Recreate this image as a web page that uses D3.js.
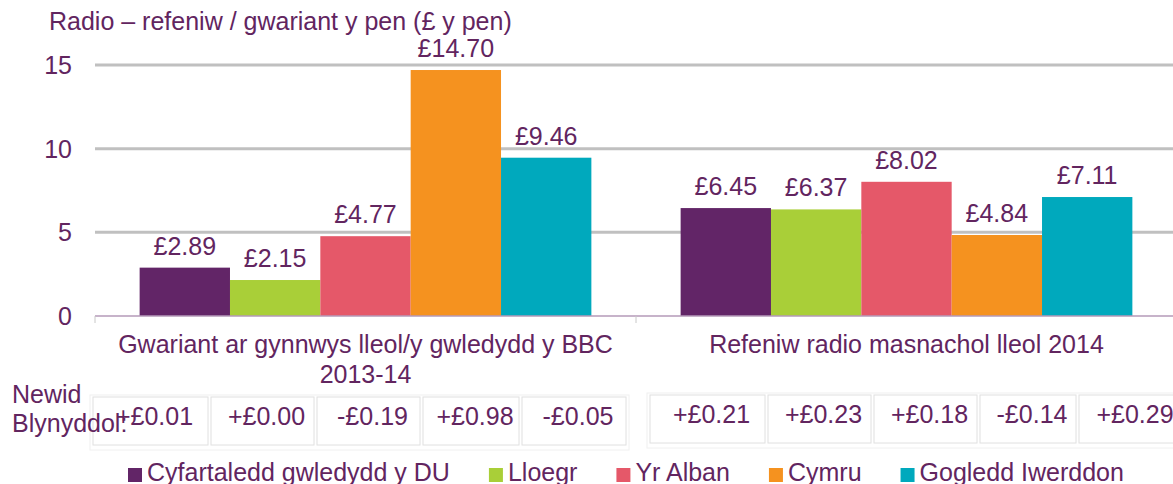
<!DOCTYPE html>
<html>
<head>
<meta charset="utf-8">
<script src="https://cdn.jsdelivr.net/npm/d3@7"></script>
<style>
  body { margin: 0; background: #fff; }
  text { font-family: "Liberation Sans", Arial, sans-serif; fill: #62255f; font-size: 25px; }
</style>
</head>
<body>
<script>
// data
const groups = ["Gwariant ar gynnwys lleol/y gwledydd y BBC|2013-14", "Refeniw radio masnachol lleol 2014"];
const seriesNames = ["Cyfartaledd gwledydd y DU", "Lloegr", "Yr Alban", "Cymru", "Gogledd Iwerddon"];
const bbcValues = [2.89, 2.15, 4.77, 14.70, 9.46];
const commercialValues = [6.45, 6.37, 8.02, 4.84, 7.11];
const bbcChange = ["+£0.01", "+£0.00", "-£0.19", "+£0.98", "-£0.05"];
const commercialChange = ["+£0.21", "+£0.23", "+£0.18", "-£0.14", "+£0.29"];
const yTicks = [0, 5, 10, 15];
const colors = ["#622567", "#a9cf38", "#e55869", "#f5921f", "#00a9bd"];

const width = 1173, height = 484;
const values = [bbcValues, commercialValues];
const changes = [bbcChange, commercialChange];

const svg = d3.select("body").append("svg")
    .attr("width", width)
    .attr("height", height);

// scales
const x0 = d3.scaleBand()
    .domain(groups)
    .range([95, 1177])
    .paddingInner(0.165)
    .paddingOuter(0.0825);

const x1 = d3.scaleBand()
    .domain(seriesNames)
    .range([0, x0.bandwidth()]);

const y = d3.scaleLinear()
    .domain([0, 15])
    .range([316, 65]);

const color = d3.scaleOrdinal().domain(seriesNames).range(colors);

// title
svg.append("text")
    .attr("x", 49)
    .attr("y", 30)
    .text("Radio – refeniw / gwariant y pen (£ y pen)");

// gridlines
svg.append("g")
    .selectAll("line")
    .data(yTicks.filter(d => d > 0))
    .join("line")
    .attr("x1", 95)
    .attr("x2", width)
    .attr("y1", d => y(d))
    .attr("y2", d => y(d))
    .attr("stroke", "#c0c0c0")
    .attr("stroke-width", 3);

// y tick labels
svg.append("g")
    .selectAll("text")
    .data(yTicks)
    .join("text")
    .attr("x", 72)
    .attr("y", d => y(d) + 9)
    .attr("text-anchor", "end")
    .text(d => d);

// bars
const barGroups = svg.append("g")
    .selectAll("g")
    .data(groups.map((g, i) => ({g, vals: values[i]})))
    .join("g")
    .attr("transform", d => `translate(${x0(d.g)},0)`);

barGroups.selectAll("rect")
    .data(d => d.vals.map((v, i) => ({name: seriesNames[i], v})))
    .join("rect")
    .attr("x", d => x1(d.name))
    .attr("y", d => y(d.v))
    .attr("width", x1.bandwidth())
    .attr("height", d => y(0) - y(d.v))
    .attr("fill", d => color(d.name));

barGroups.selectAll("text")
    .data(d => d.vals.map((v, i) => ({name: seriesNames[i], v})))
    .join("text")
    .attr("x", d => x1(d.name) + x1.bandwidth() / 2)
    .attr("y", d => y(d.v) - 13)
    .attr("text-anchor", "middle")
    .text(d => "£" + d.v.toFixed(2));

// x axis line and ticks
svg.append("line")
    .attr("x1", 95).attr("x2", width)
    .attr("y1", y(0)).attr("y2", y(0))
    .attr("stroke", "#b49ab8")
    .attr("stroke-width", 1.5);

const step = x0.step();
svg.append("g")
    .selectAll("line")
    .data([0, 1])
    .join("line")
    .attr("x1", d => 95 + d * step)
    .attr("x2", d => 95 + d * step)
    .attr("y1", y(0))
    .attr("y2", y(0) + 7)
    .attr("stroke", "#c8c8c8");

// category labels
svg.append("g")
    .selectAll("text")
    .data(groups)
    .join("text")
    .attr("y", 353)
    .attr("text-anchor", "middle")
    .each(function(d) {
      d3.select(this).selectAll("tspan")
        .data(d.split("|"))
        .join("tspan")
        .attr("x", x0(d) + x0.bandwidth() / 2)
        .attr("dy", (p, i) => i === 0 ? 0 : 30)
        .text(p => p);
    });

// annual change table
const tableLeft = [93, 650];
const tableTop = [397, 395];
const cellWidths = [115, 103, 103, 96, 104];
const cellGap = 3, cellH = 48;

groups.forEach((g, gi) => {
  const left = tableLeft[gi];
  const top = tableTop[gi];
  const starts = cellWidths.map((w, i) => left + d3.sum(cellWidths.slice(0, i)) + i * cellGap);
  const tg = svg.append("g");
  tg.append("rect")
    .attr("x", left - 3).attr("y", top - 2)
    .attr("width", d3.sum(cellWidths) + 4 * cellGap + 6).attr("height", cellH + 7)
    .attr("fill", "none")
    .attr("stroke", "#f0f0f0");
  tg.selectAll("rect.cell")
    .data(changes[gi])
    .join("rect")
    .attr("class", "cell")
    .attr("x", (d, i) => starts[i])
    .attr("y", top)
    .attr("width", (d, i) => cellWidths[i])
    .attr("height", cellH)
    .attr("fill", "#fff")
    .attr("stroke", "#e0e0e0");
  tg.selectAll("text")
    .data(changes[gi])
    .join("text")
    .attr("x", (d, i) => starts[i] + cellWidths[i] / 2 + 4)
    .attr("y", top + 28)
    .attr("text-anchor", "middle")
    .text(d => d);
});

// row label drawn over the table, as in the original
svg.append("text")
    .attr("x", 12).attr("y", 403)
    .text("Newid");
svg.append("text")
    .attr("x", 12).attr("y", 432)
    .text("Blynyddol:");

// legend
const legend = svg.append("g");
let lx = 128;
seriesNames.forEach((name, i) => {
  const item = legend.append("g").attr("transform", `translate(${lx},481)`);
  item.append("rect")
    .attr("x", 0).attr("y", -13)
    .attr("width", 14).attr("height", 14)
    .attr("fill", color(name));
  const t = item.append("text")
    .attr("x", 19)
    .text(name);
  lx += 19 + t.node().getComputedTextLength() + 39;
});
</script>
</body>
</html>
